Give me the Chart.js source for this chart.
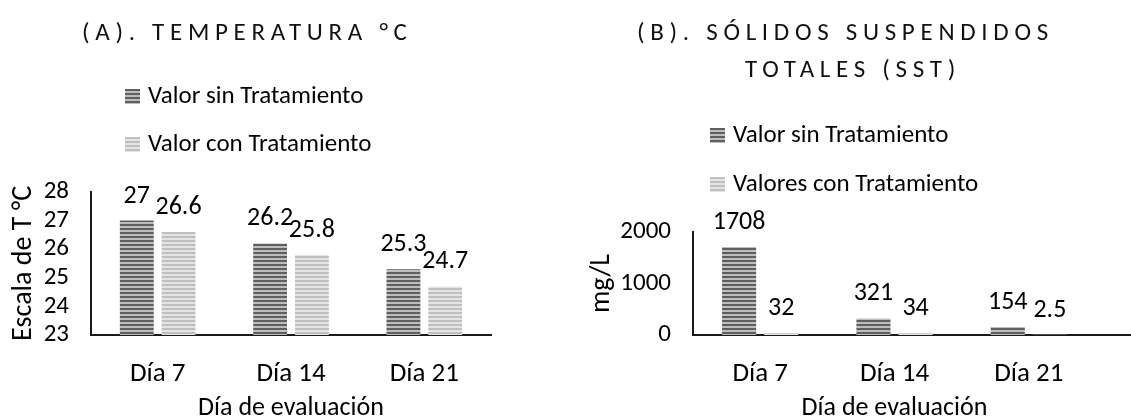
<!DOCTYPE html>
<html>
<head>
<meta charset="utf-8">
<script src="https://cdn.jsdelivr.net/npm/chart.js@4/dist/chart.umd.min.js"></script>
<style>
  body { margin: 0; background: #fff; }
  #wrap { position: relative; width: 1131px; height: 420px; font-family: Carlito, Calibri, Lato, sans-serif; color: #000; }
  .panel { position: absolute; top: 0; height: 420px; }
  .title { position: absolute; font-size: 25px; line-height: 25px; letter-spacing: 5.7px; white-space: nowrap; color: #111; }
  .leg { position: absolute; font-size: 25px; line-height: 25px; white-space: nowrap; }
  .sw { display: inline-block; width: 15px; height: 15px; margin-right: 8px; vertical-align: -1px; }
  .sw.dark { background: repeating-linear-gradient(#5f5f5f 0 2px, #bdbdbd 2px 4px); }
  .sw.light { background: repeating-linear-gradient(#bfbfbf 0 2px, #e4e4e4 2px 4px); }
</style>
</head>
<body>
<div id="wrap">
  <div class="panel" style="left:0;width:560px">
    <canvas id="chart1" width="560" height="420"></canvas>
    <div class="title" style="left:82px;top:19px">(A). TEMPERATURA °C</div>
    <div class="leg" style="left:125px;top:82px"><span class="sw dark"></span>Valor sin Tratamiento</div>
    <div class="leg" style="left:125px;top:130px"><span class="sw light"></span>Valor con Tratamiento</div>
  </div>
  <div class="panel" style="left:560px;width:571px">
    <canvas id="chart2" width="571" height="420"></canvas>
    <div class="title" style="left:77px;top:19px">(B). SÓLIDOS SUSPENDIDOS</div>
    <div class="title" style="left:185px;top:56px">TOTALES (SST)</div>
    <div class="leg" style="left:150px;top:121px"><span class="sw dark"></span>Valor sin Tratamiento</div>
    <div class="leg" style="left:150px;top:170px"><span class="sw light"></span>Valores con Tratamiento</div>
  </div>
</div>
<script>
const dias = ["Día 7", "Día 14", "Día 21"];
const tempSin = [27, 26.2, 25.3];
const tempCon = [26.6, 25.8, 24.7];
const sstSin = [1708, 321, 154];
const sstCon = [32, 34, 2.5];

const FONT = "Carlito, Calibri, Lato, sans-serif";

function stripes(c1, c2) {
  const cv = document.createElement("canvas");
  cv.width = 4;
  cv.height = 4;
  const g = cv.getContext("2d");
  g.fillStyle = c1;
  g.fillRect(0, 0, 4, 2);
  g.fillStyle = c2;
  g.fillRect(0, 2, 4, 2);
  return g.createPattern(cv, "repeat");
}
const darkFill = stripes("#5f5f5f", "#bdbdbd");
const lightFill = stripes("#bfbfbf", "#e4e4e4");

// value above each bar
const valueLabels = {
  id: "valueLabels",
  afterDatasetsDraw(chart) {
    const ctx = chart.ctx;
    ctx.save();
    ctx.font = "26px " + FONT;
    ctx.fillStyle = "#000";
    ctx.textAlign = "center";
    ctx.textBaseline = "alphabetic";
    chart.data.datasets.forEach((ds, i) => {
      chart.getDatasetMeta(i).data.forEach((bar, j) => {
        ctx.fillText(String(ds.data[j]), bar.x, bar.y - 18);
      });
    });
    ctx.restore();
  },
};

// x axis line runs on to the right edge
const axisTail = {
  id: "axisTail",
  afterDraw(chart, args, opts) {
    if (!opts.to) return;
    const ctx = chart.ctx;
    const y = chart.chartArea.bottom;
    ctx.save();
    ctx.strokeStyle = "#1a1a1a";
    ctx.lineWidth = 2;
    ctx.beginPath();
    ctx.moveTo(chart.chartArea.right, y);
    ctx.lineTo(opts.to, y);
    ctx.stroke();
    ctx.restore();
  },
};

function makeOptions(yTitle, yMin, yMax, yStep, yWidth, pad, yTitlePad, tail) {
  return {
    responsive: false,
    animation: false,
    layout: { padding: pad },
    plugins: {
      legend: { display: false },
      title: { display: false },
      tooltip: { enabled: false },
      axisTail: { to: tail },
    },
    scales: {
      x: {
        grid: { display: false, drawTicks: false },
        border: { display: true, color: "#1a1a1a", width: 2 },
        ticks: { color: "#000", padding: 23, font: { family: FONT, size: 27 } },
        title: { display: true, text: "Día de evaluación", color: "#000", padding: { top: 0, bottom: 0 }, font: { family: FONT, size: 26, lineHeight: 0.85 } },
        afterFit: (s) => { s.height = 85; },
      },
      y: {
        min: yMin,
        max: yMax,
        grid: { display: false, drawTicks: false },
        border: { display: true, color: "#1a1a1a", width: 2 },
        ticks: { stepSize: yStep, autoSkip: false, color: "#000", padding: 22, font: { family: FONT, size: 25 }, callback: (v) => String(v) },
        title: { display: true, text: yTitle, color: "#000", padding: { top: yTitlePad, bottom: 0 }, font: { family: FONT, size: 28, lineHeight: 1.2 } },
        afterFit: (s) => { s.width = yWidth; },
      },
    },
  };
}

new Chart(document.getElementById("chart1").getContext("2d"), {
  type: "bar",
  data: {
    labels: dias,
    datasets: [
      { label: "Valor sin Tratamiento", data: tempSin, backgroundColor: darkFill, categoryPercentage: 0.627, barPercentage: 0.81 },
      { label: "Valor con Tratamiento", data: tempCon, backgroundColor: lightFill, categoryPercentage: 0.627, barPercentage: 0.81 },
    ],
  },
  plugins: [valueLabels, axisTail],
  options: makeOptions("Escala de T °C", 23, 28, 1, 91, { top: 192, left: 0, right: 69, bottom: 0 }, 7, 0),
});

new Chart(document.getElementById("chart2").getContext("2d"), {
  type: "bar",
  data: {
    labels: dias,
    datasets: [
      { label: "Valor sin Tratamiento", data: sstSin, backgroundColor: darkFill, categoryPercentage: 0.627, barPercentage: 0.81 },
      { label: "Valores con Tratamiento", data: sstCon, backgroundColor: lightFill, categoryPercentage: 0.627, barPercentage: 0.81 },
    ],
  },
  plugins: [valueLabels, axisTail],
  options: makeOptions("mg/L", 0, 2000, 1000, 133, { top: 232, left: 0, right: 35, bottom: 0 }, 25, 571),
});
</script>
</body>
</html>
